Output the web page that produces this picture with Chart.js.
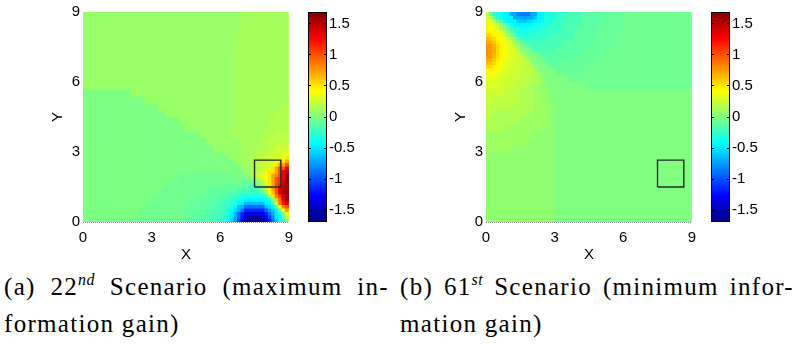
<!DOCTYPE html>
<html><head><meta charset="utf-8">
<script src="https://cdn.jsdelivr.net/npm/chart.js@4.4.1/dist/chart.umd.min.js"></script>
<style>
html,body{margin:0;padding:0;background:#fff;width:804px;height:344px;overflow:hidden;}
canvas{position:absolute;display:block;}
.cap{position:absolute;font-family:"Liberation Serif","DejaVu Serif",serif;font-size:25px;letter-spacing:1.3px;line-height:30px;color:#000;white-space:nowrap;}
.just{text-align:justify;text-align-last:justify;white-space:normal;}
.sup{font-size:16px;font-style:italic;position:relative;top:-10px;letter-spacing:0.5px;}
</style></head><body>
<canvas id="pa" width="300" height="265" style="left:0;top:0;width:300px;height:265px"></canvas>
<canvas id="ca" width="60" height="265" style="left:300px;top:0;width:60px;height:265px"></canvas>
<canvas id="pb" width="300" height="265" style="left:403px;top:0;width:300px;height:265px"></canvas>
<canvas id="cb" width="60" height="265" style="left:703px;top:0;width:60px;height:265px"></canvas>
<div class="cap just" style="left:4px;top:272px;width:385px">(a) 22<span class="sup">nd</span> Scenario (maximum in-</div>
<div class="cap" style="left:4px;top:309px">formation gain)</div>
<div class="cap just" style="left:400px;top:272px;width:394px">(b) 61<span class="sup">st</span> Scenario (minimum infor-</div>
<div class="cap" style="left:400px;top:309px">mation gain)</div>
<script>
// ---- data ----
const xTicks = [0, 3, 6, 9];
const yTicks = [0, 3, 6, 9];
const colorbarTicks = [-1.5, -1, -0.5, 0, 0.5, 1, 1.5];
const colorLimits = [-1.69, 1.69];
const gridMax = 9;
const cellSize = 0.3;      // coarse grid over the whole square
const fineCell = 0.15;     // finer grid over the 3x3 corner patches
const patchA = [6, 0];     // lower-left corner (x, y) of the fine patch in panel (a)
const patchB = [0, 6];     // lower-left corner (x, y) of the fine patch in panel (b)
const boxX = [7.5, 8.65, 8.65, 7.5, 7.5];
const boxY = [1.5, 1.5, 2.65, 2.65, 1.5];

// coarse fields: rows from top (y=9) to bottom (y=0), columns from x=0 to x=9
const fieldA = [
[.08,.08,.08,.08,.08,.08,.08,.08,.08,.08, .08,.08,.08,.08,.08,.08,.08,.08,.08,.08, .08,.08,.08,.12,.12,.12,.12,.12,.12,.12],
[.08,.08,.08,.08,.08,.08,.08,.08,.08,.08, .08,.08,.08,.08,.08,.08,.08,.08,.08,.08, .08,.08,.08,.12,.12,.12,.12,.12,.12,.12],
[.08,.08,.08,.08,.08,.08,.08,.08,.08,.08, .08,.08,.08,.08,.08,.08,.08,.08,.08,.08, .08,.08,.08,.12,.12,.12,.12,.12,.12,.12],
[.08,.08,.08,.08,.08,.08,.08,.08,.08,.08, .08,.08,.08,.08,.08,.08,.08,.08,.08,.08, .08,.08,.12,.12,.12,.12,.12,.12,.12,.12],
[.08,.08,.08,.08,.08,.08,.08,.08,.08,.08, .08,.08,.08,.08,.08,.08,.08,.08,.08,.08, .08,.08,.12,.12,.12,.12,.12,.12,.12,.12],
[.08,.08,.08,.08,.08,.08,.08,.08,.08,.08, .08,.08,.08,.08,.08,.08,.08,.08,.08,.08, .08,.08,.12,.12,.12,.12,.12,.12,.12,.12],
[.08,.08,.08,.08,.08,.08,.08,.08,.08,.08, .08,.08,.08,.08,.08,.08,.08,.08,.08,.08, .08,.08,.12,.12,.12,.12,.12,.12,.12,.12],
[.08,.08,.08,.08,.08,.08,.08,.08,.08,.08, .08,.08,.08,.08,.08,.08,.08,.08,.08,.08, .08,.08,.12,.12,.12,.12,.12,.12,.12,.12],
[.08,.08,.08,.08,.08,.08,.08,.08,.08,.08, .08,.08,.08,.08,.08,.08,.08,.08,.08,.08, .08,.08,.12,.12,.12,.12,.12,.12,.12,.12],
[.08,.08,.08,.08,.08,.08,.08,.08,.08,.08, .08,.08,.08,.08,.08,.08,.08,.08,.08,.08, .08,.08,.12,.12,.12,.12,.12,.12,.12,.12],
[.08,.08,.08,.08,.08,.08,.08,.08,.08,.08, .08,.08,.08,.08,.08,.08,.08,.08,.08,.08, .08,.08,.12,.12,.12,.12,.12,.12,.12,.12],
[-.01,-.01,-.01,-.01,-.01,-.01,-.01,.08,.08,.08, .08,.08,.08,.08,.08,.08,.08,.08,.08,.08, .08,.08,.12,.12,.12,.12,.12,.12,.12,.12],
[-.01,-.01,-.01,-.01,-.01,-.01,-.01,-.01,-.01,.08, .08,.08,.08,.08,.08,.08,.08,.08,.08,.08, .08,.08,.12,.12,.12,.12,.12,.12,.12,.12],
[-.01,-.01,-.01,-.01,-.01,-.01,-.01,-.01,-.01,-.01, -.01,.08,.08,.08,.08,.08,.08,.08,.08,.08, .08,.08,.12,.12,.12,.12,.12,.12,.12,.16],
[-.01,-.01,-.01,-.01,-.01,-.01,-.01,-.01,-.01,-.01, -.01,-.01,.08,.08,.08,.08,.08,.08,.08,.08, .08,.08,.12,.12,.12,.12,.12,.12,.16,.16],
[-.01,-.01,-.01,-.01,-.01,-.01,-.01,-.01,-.01,-.01, -.01,-.01,-.01,-.01,.08,.08,.08,.08,.08,.08, .08,.08,.12,.12,.12,.12,.12,.16,.16,.16],
[-.01,-.01,-.01,-.01,-.01,-.01,-.01,-.01,-.01,-.01, -.01,-.01,-.01,-.01,-.01,.08,.08,.08,.08,.08, .08,.08,.12,.12,.12,.12,.12,.16,.16,.16],
[-.01,-.01,-.01,-.01,-.01,-.01,-.01,-.01,-.01,-.01, -.01,-.01,-.01,-.01,-.01,-.01,-.01,.08,.08,.08, .08,.08,.12,.12,.12,.12,.16,.16,.2,.2],
[-.01,-.01,-.01,-.01,-.01,-.01,-.01,-.01,-.01,-.01, -.01,-.01,-.01,-.01,-.01,-.01,-.01,-.01,.08,.08, .08,.08,.08,.12,.12,.12,.16,.2,.2,.2],
[-.01,-.01,-.01,-.01,-.01,-.01,-.01,-.01,-.01,-.01, -.01,-.01,-.01,-.01,-.01,-.01,-.01,-.01,-.01,.08, .08,.08,.08,.12,.12,.16,.16,.2,.26,.26],
[-.01,-.01,-.01,-.01,-.01,-.01,-.01,-.01,-.01,-.01, -.01,-.01,-.01,-.01,-.01,-.01,-.01,-.01,-.01,-.01, -.01,.08,.08,.12,.12,.16,.2,.26,.31,.33],
[-.01,-.01,-.01,-.01,-.01,-.01,-.01,-.01,-.01,-.01, -.01,-.01,-.01,-.01,-.01,-.01,-.01,-.01,-.01,-.01, -.01,-.01,.08,.08,.12,.16,.21,.28,.36,.5],
[-.01,-.01,-.01,-.01,-.01,-.01,-.01,-.01,-.01,-.01, -.01,-.01,-.01,-.01,-.01,-.01,-.01,-.01,-.01,-.01, -.01,-.01,-.01,.08,.15,.21,.28,.38,.55,1.0],
[-.01,-.01,-.01,-.01,-.01,-.01,-.01,-.01,-.01,-.01, -.01,-.01,-.01,-.01,-.05,-.05,-.05,-.05,-.05,-.05, -.05,-.05,-.05,-.01,.05,.21,.36,.55,1.0,1.5],
[-.01,-.01,-.01,-.01,-.01,-.01,-.01,-.01,-.01,-.01, -.01,-.01,-.05,-.05,-.05,-.05,-.05,-.05,-.05,-.05, -.05,-.05,-.1,-.1,-.12,.1,.3,.55,1.1,1.6],
[-.01,-.01,-.01,-.01,-.01,-.01,-.01,-.01,-.01,-.01, -.01,-.05,-.05,-.05,-.05,-.05,-.05,-.05,-.1,-.1, -.1,-.1,-.15,-.22,-.22,-.15,.05,.35,.9,1.6],
[-.01,-.01,-.01,-.01,-.01,-.01,-.01,-.01,-.01,-.03, -.05,-.05,-.05,-.05,-.05,-.05,-.07,-.1,-.1,-.12, -.15,-.22,-.3,-.42,-.45,-.45,-.35,.1,.7,1.5],
[-.01,-.01,-.01,-.01,-.01,-.01,-.01,-.01,-.02,-.05, -.05,-.05,-.05,-.05,-.05,-.08,-.1,-.1,-.13,-.15, -.22,-.3,-.45,-.65,-.9,-.9,-.65,-.35,.25,1.1],
[-.01,-.01,-.01,-.01,-.01,-.01,-.01,-.01,-.05,-.05, -.05,-.05,-.05,-.05,-.05,-.1,-.1,-.1,-.15,-.18, -.22,-.4,-.7,-1.1,-1.35,-1.35,-1.1,-.75,-.3,.5],
[-.01,-.01,-.01,-.01,-.01,-.01,-.01,-.01,-.05,-.05, -.05,-.05,-.05,-.05,-.08,-.1,-.1,-.15,-.15,-.22, -.25,-.5,-.9,-1.4,-1.6,-1.6,-1.45,-.9,-.45,.15]
];

// fine patch (a): x 6..9, y 0..3; rows from top (y=3) to bottom (y=0)
const fineA = [
[-.01,.08,.08,.08,.08,.08,.12,.12,.12,.12, .17,.17,.17,.21,.21,.26,.26,.26,.33,.33],
[-.01,-.01,.08,.08,.08,.08,.08,.12,.12,.12, .17,.17,.21,.21,.26,.26,.26,.33,.33,.5],
[-.01,-.01,-.01,-.01,.08,.08,.08,.12,.12,.12, .17,.17,.21,.26,.26,.26,.33,.5,.5,.72],
[-.01,-.01,-.01,-.01,-.01,.08,.08,.08,.12,.12, .17,.21,.21,.26,.26,.33,.5,.72,.72,1.0],
[-.01,-.01,-.01,-.01,-.01,-.01,.08,.08,.12,.12, .17,.21,.26,.26,.33,.5,.72,1.0,1.0,1.35],
[-.01,-.01,-.01,-.01,-.01,-.01,-.01,.08,.1,.15, .19,.21,.26,.33,.5,.5,.72,1.0,1.35,1.45],
[-.05,-.05,-.05,-.03,-.01,-.01,-.01,-.01,.08,.15, .2,.26,.33,.4,.5,.72,.8,1.0,1.35,1.6],
[-.05,-.05,-.05,-.05,-.05,-.05,-.05,-.05,-.02,.03, .12,.22,.33,.4,.5,.72,1.0,1.1,1.35,1.6],
[-.05,-.05,-.05,-.05,-.05,-.05,-.05,-.1,-.1,-.1, -.03,.1,.2,.3,.5,.72,1.0,1.1,1.4,1.6],
[-.05,-.07,-.1,-.1,-.1,-.1,-.1,-.1,-.15,-.15, -.12,-.02,.1,.25,.5,.72,1.0,1.2,1.45,1.6],
[-.1,-.1,-.1,-.1,-.1,-.15,-.15,-.15,-.22,-.22, -.22,-.12,0,.15,.45,.72,1.0,1.35,1.5,1.6],
[-.1,-.1,-.15,-.15,-.15,-.22,-.22,-.22,-.22,-.3, -.3,-.22,-.12,.02,.4,.6,1.0,1.35,1.5,1.6],
[-.15,-.15,-.15,-.22,-.22,-.22,-.33,-.33,-.33,-.33, -.33,-.33,-.33,-.2,.05,.5,.85,1.1,1.4,1.6],
[-.15,-.18,-.22,-.22,-.33,-.33,-.38,-.45,-.45,-.45, -.45,-.45,-.45,-.38,-.25,.02,.6,.9,1.35,1.5],
[-.18,-.22,-.22,-.3,-.33,-.45,-.45,-.65,-.65,-.65, -.65,-.65,-.65,-.45,-.45,-.2,.3,.85,1.2,1.35],
[-.22,-.22,-.25,-.33,-.45,-.65,-.65,-.9,-.9,-.9, -.9,-.9,-.9,-.65,-.55,-.45,-.15,.35,.85,1.0],
[-.22,-.22,-.33,-.4,-.55,-.7,-.9,-1.15,-1.15,-1.15, -1.15,-1.15,-1.15,-.9,-.75,-.6,-.45,-.1,.45,.72],
[-.22,-.25,-.33,-.45,-.65,-.9,-1.15,-1.35,-1.35,-1.4, -1.4,-1.35,-1.35,-1.15,-.9,-.65,-.45,-.33,0,.45],
[-.22,-.3,-.35,-.5,-.7,-.9,-1.2,-1.4,-1.6,-1.6, -1.6,-1.6,-1.45,-1.3,-1.05,-.8,-.5,-.4,-.15,.25],
[-.22,-.3,-.4,-.55,-.75,-1.05,-1.3,-1.6,-1.6,-1.6, -1.6,-1.6,-1.6,-1.4,-1.15,-.9,-.6,-.4,-.3,.05]
];

const fieldB = [
[.15,-.15,-.4,-.45,-.75,-.9,-.75,-.45,-.4,-.33, -.25,-.25,-.18,-.18,-.12,-.12,-.12,-.08,-.08,-.08, -.05,-.05,-.05,-.05,-.05,-.05,-.05,-.05,-.05,-.05],
[.3,.15,-.15,-.45,-.45,-.5,-.45,-.45,-.33,-.25, -.25,-.18,-.18,-.18,-.12,-.12,-.12,-.08,-.08,-.08, -.05,-.05,-.05,-.05,-.05,-.05,-.05,-.05,-.05,-.05],
[.45,.3,.15,-.2,-.33,-.3,-.33,-.33,-.25,-.25, -.25,-.18,-.18,-.12,-.12,-.12,-.08,-.08,-.08,-.08, -.05,-.05,-.05,-.05,-.05,-.05,-.05,-.05,-.05,-.05],
[.55,.45,.36,.15,-.15,-.25,-.25,-.25,-.25,-.18, -.18,-.18,-.18,-.12,-.12,-.12,-.08,-.08,-.08,-.05, -.05,-.05,-.05,-.05,-.05,-.05,-.05,-.05,-.05,-.05],
[.7,.55,.45,.3,.05,-.12,-.18,-.18,-.18,-.18, -.18,-.12,-.12,-.12,-.12,-.08,-.08,-.08,-.08,-.05, -.05,-.05,-.05,-.05,-.05,-.05,-.05,-.05,-.05,-.05],
[.8,.6,.45,.3,.15,0,0,-.1,-.18,-.18, -.12,-.12,-.12,-.12,-.08,-.08,-.08,-.08,-.05,-.05, -.05,-.05,-.05,-.05,-.05,-.05,-.05,-.05,-.05,-.05],
[.7,.55,.45,.3,.25,.15,0,0,-.08,-.12, -.12,-.12,-.12,-.08,-.08,-.08,-.08,-.05,-.05,-.05, -.05,-.05,-.05,-.05,-.05,-.05,-.05,-.05,-.05,-.05],
[.55,.45,.36,.3,.25,.2,.1,0,0,-.07, -.1,-.08,-.08,-.08,-.08,-.08,-.05,-.05,-.05,-.05, -.05,-.05,-.05,-.05,-.05,-.05,-.05,-.05,-.05,-.05],
[.45,.36,.3,.3,.25,.2,.2,.08,0,0, -.05,-.08,-.08,-.08,-.05,-.05,-.05,-.05,-.05,-.05, -.05,-.05,-.05,-.05,-.05,-.05,-.05,-.05,-.05,-.05],
[.36,.3,.3,.25,.25,.2,.2,.15,.03,0, 0,0,-.05,-.05,-.05,-.05,-.05,-.05,-.05,-.05, -.05,-.05,-.05,-.05,-.05,-.05,-.05,-.05,-.05,-.05],
[.3,.3,.25,.25,.2,.2,.15,.1,.05,0, 0,0,0,0,-.03,-.05,-.05,-.05,-.05,-.05, -.05,-.05,-.05,-.05,-.05,-.05,-.05,-.05,-.05,-.05],
[.25,.25,.25,.2,.2,.15,.15,.1,.07,0, 0,0,0,0,0,0,0,0,0,0, 0,0,0,0,0,0,0,0,0,0],
[.25,.2,.2,.2,.2,.15,.15,.1,.07,.03, 0,0,0,0,0,0,0,0,0,0, 0,0,0,0,0,0,0,0,0,0],
[.2,.2,.2,.2,.15,.15,.15,.1,.1,.05, 0,0,0,0,0,0,0,0,0,0, 0,0,0,0,0,0,0,0,0,0],
[.2,.15,.15,.15,.15,.15,.1,.1,.1,.05, 0,0,0,0,0,0,0,0,0,0, 0,0,0,0,0,0,0,0,0,0],
[.15,.15,.15,.15,.15,.1,.1,.1,.1,.05, 0,0,0,0,0,0,0,0,0,0, 0,0,0,0,0,0,0,0,0,0],
[.15,.15,.15,.1,.1,.1,.1,.1,.05,.05, 0,0,0,0,0,0,0,0,0,0, 0,0,0,0,0,0,0,0,0,0],
[.1,.1,.1,.1,.1,.1,.1,.05,.05,.05, 0,0,0,0,0,0,0,0,0,0, 0,0,0,0,0,0,0,0,0,0],
[.1,.1,.1,.1,.1,.1,.05,.05,.05,.05, 0,0,0,0,0,0,0,0,0,0, 0,0,0,0,0,0,0,0,0,0],
[.1,.1,.1,.1,.05,.05,.05,.05,.05,.05, 0,0,0,0,0,0,0,0,0,0, 0,0,0,0,0,0,0,0,0,0],
[.07,.05,.05,.05,.05,.05,.05,.05,.05,.05, 0,0,0,0,0,0,0,0,0,0, 0,0,0,0,0,0,0,0,0,0],
[.05,.05,.05,.05,.05,.05,.05,.05,.05,.05, 0,0,0,0,0,0,0,0,0,0, 0,0,0,0,0,0,0,0,0,0],
[.05,.05,.05,.05,.05,.05,.05,.05,.05,.05, 0,0,0,0,0,0,0,0,0,0, 0,0,0,0,0,0,0,0,0,0],
[.05,.05,.05,.05,.05,.05,.05,.05,.05,.05, 0,0,0,0,0,0,0,0,0,0, 0,0,0,0,0,0,0,0,0,0],
[.05,.05,.05,.05,.05,.05,.05,.05,.05,.05, 0,0,0,0,0,0,0,0,0,0, 0,0,0,0,0,0,0,0,0,0],
[.05,.05,.05,.05,.05,.05,.05,.05,.05,.05, 0,0,0,0,0,0,0,0,0,0, 0,0,0,0,0,0,0,0,0,0],
[.05,.05,.05,.05,.05,.05,.05,.05,.05,.05, 0,0,0,0,0,0,0,0,0,0, 0,0,0,0,0,0,0,0,0,0],
[.05,.05,.05,.05,.05,.05,.05,.05,.05,.05, 0,0,0,0,0,0,0,0,0,0, 0,0,0,0,0,0,0,0,0,0],
[.05,.05,.05,.05,.05,.05,.05,.05,.05,.05, 0,0,0,0,0,0,0,0,0,0, 0,0,0,0,0,0,0,0,0,0],
[.05,.05,.05,.05,.05,.05,.05,.05,.05,.05, 0,0,0,0,0,0,0,0,0,0, 0,0,0,0,0,0,0,0,0,0]
];

// fine patch (b): x 0..3, y 6..9; rows from top (y=9) to bottom (y=6)
const fineB = [
[.2,-.1,-.25,-.33,-.33,-.45,-.45,-.7,-.7,-.85, -.85,-.85,-.85,-.7,-.7,-.45,-.45,-.33,-.33,-.33],
[.3,.15,-.12,-.33,-.33,-.45,-.45,-.45,-.7,-.7, -.7,-.75,-.7,-.7,-.6,-.45,-.45,-.33,-.33,-.33],
[.3,.3,.2,.05,-.15,-.33,-.45,-.45,-.45,-.55, -.6,-.6,-.55,-.5,-.45,-.45,-.4,-.33,-.33,-.25],
[.36,.36,.3,.2,.05,-.05,-.2,-.35,-.45,-.45, -.45,-.45,-.45,-.45,-.4,-.33,-.33,-.33,-.3,-.25],
[.45,.4,.36,.3,.12,0,-.1,-.25,-.33,-.33, -.4,-.4,-.35,-.33,-.33,-.33,-.33,-.3,-.25,-.25],
[.45,.45,.45,.36,.3,.12,0,-.1,-.25,-.33, -.33,-.33,-.33,-.33,-.33,-.3,-.25,-.25,-.25,-.25],
[.55,.55,.45,.45,.36,.3,.15,0,-.12,-.28, -.3,-.3,-.3,-.25,-.25,-.25,-.25,-.25,-.25,-.18],
[.65,.6,.55,.45,.4,.36,.3,.12,0,-.1, -.2,-.25,-.25,-.25,-.25,-.25,-.25,-.22,-.18,-.18],
[.7,.7,.6,.5,.45,.36,.3,.25,.05,0, -.08,-.18,-.22,-.22,-.22,-.22,-.18,-.18,-.18,-.18],
[.78,.75,.65,.55,.45,.4,.36,.3,.2,.05, 0,-.05,-.12,-.18,-.18,-.18,-.18,-.18,-.18,-.18],
[.8,.75,.7,.55,.45,.4,.36,.3,.3,.15, .03,0,-.03,-.12,-.18,-.18,-.18,-.18,-.18,-.18],
[.8,.75,.7,.55,.45,.4,.36,.3,.3,.25, .15,.02,0,0,-.05,-.12,-.15,-.15,-.12,-.12],
[.78,.75,.65,.55,.45,.4,.36,.3,.3,.25, .25,.12,.02,0,0,-.05,-.1,-.12,-.12,-.12],
[.7,.7,.6,.5,.45,.36,.3,.3,.25,.25, .25,.2,.12,.02,0,0,-.05,-.1,-.12,-.12],
[.65,.6,.55,.45,.42,.36,.3,.3,.25,.25, .25,.2,.2,.08,0,0,0,-.04,-.1,-.1],
[.55,.55,.45,.45,.4,.36,.3,.3,.25,.25, .25,.2,.2,.2,.08,0,0,0,-.04,-.08],
[.45,.45,.45,.4,.36,.3,.3,.25,.25,.25, .2,.2,.2,.2,.12,.05,0,0,0,0],
[.45,.4,.36,.36,.3,.3,.3,.25,.25,.25, .2,.2,.2,.2,.15,.1,.03,0,0,0],
[.36,.36,.36,.3,.3,.3,.25,.25,.25,.25, .2,.2,.2,.15,.15,.12,.05,0,0,0],
[.3,.3,.3,.3,.3,.25,.25,.25,.25,.2, .2,.2,.2,.15,.15,.15,.05,0,0,0]
];

// ---- rendering ----
const TICK_FONT = {family: "'Liberation Sans', Arial, sans-serif", size: 15};
const TITLE_FONT = {family: "'Liberation Sans', Arial, sans-serif", size: 15};

function jet(v) {
  let t = (v - colorLimits[0]) / (colorLimits[1] - colorLimits[0]);
  t = Math.min(1, Math.max(0, t));
  const f = x => Math.round(255 * Math.min(1, Math.max(0, x)));
  return 'rgb(' + f(1.5 - Math.abs(4 * t - 3)) + ',' + f(1.5 - Math.abs(4 * t - 2)) + ',' + f(1.5 - Math.abs(4 * t - 1)) + ')';
}

function fixedTicks(list) {
  return function (scale) { scale.ticks = list.map(v => ({value: v})); };
}

// one floating-bar dataset per grid row; cells span [y0 + k*size, y0 + (k+1)*size]
function gridDatasets(grid, x0, y0, size, axisId) {
  const n = grid.length;
  return grid.map((row, r) => ({
    type: 'bar', xAxisID: axisId,
    data: row.map((v, c) => ({x: x0 + (c + 0.5) * size, y: [y0 + (n - r - 1) * size, y0 + (n - r) * size]})),
    backgroundColor: row.map(jet),
    borderWidth: 0, inflateAmount: 0.4, grouped: false,
    barPercentage: 1, categoryPercentage: 1
  }));
}

function makePanel(id, field, fine, patch) {
  const datasets = [{
    type: 'line',
    data: boxX.map((x, i) => ({x: x, y: boxY[i]})),
    borderColor: '#262626', borderWidth: 1.4,
    pointRadius: 0, fill: false, tension: 0
  }]
    .concat(gridDatasets(fine, patch[0], patch[1], fineCell, 'xf'))
    .concat(gridDatasets(field, 0, 0, cellSize, 'x'));
  const edgeColor = c => (c.tick && c.tick.value === 0) ? '#8c8c8c' : 'rgba(0,0,0,0)';
  new Chart(document.getElementById(id), {
    type: 'bar',
    data: {datasets: datasets},
    options: {
      responsive: false, animation: false, devicePixelRatio: 1,
      layout: {padding: {left: 0, top: 12, right: 7, bottom: 0}},
      plugins: {legend: {display: false}, tooltip: {enabled: false}},
      scales: {
        x: {
          type: 'linear', min: 0, max: gridMax, offset: false,
          afterBuildTicks: fixedTicks(xTicks),
          afterFit: s => { s.height = 43; },
          grid: {drawTicks: false, color: edgeColor, z: 1, lineWidth: 1},
          border: {display: false, dash: [1, 1]},
          ticks: {padding: 7, color: '#000', font: TICK_FONT, maxRotation: 0, autoSkip: false},
          title: {display: true, text: 'X', color: '#000', font: TITLE_FONT, padding: {top: 0, bottom: 1}}
        },
        xf: {type: 'linear', display: false, min: 0, max: gridMax, offset: false},
        y: {
          type: 'linear', min: 0, max: gridMax,
          afterBuildTicks: fixedTicks(yTicks),
          afterFit: s => { s.width = 83; },
          grid: {drawTicks: false, color: edgeColor, z: 1, lineWidth: 1},
          border: {display: false, dash: [1, 1]},
          ticks: {padding: 3, color: '#000', font: TICK_FONT, autoSkip: false},
          title: {display: true, text: 'Y', color: '#000', font: TITLE_FONT, padding: {top: 49, bottom: 0}}
        }
      }
    }
  });
}

function jetGradient(context) {
  const chart = context.chart;
  const area = chart.chartArea;
  if (!area) return 'rgba(0,0,0,0)';
  const g = chart.ctx.createLinearGradient(0, area.bottom, 0, area.top);
  const n = 64;
  for (let k = 0; k <= n; k++) {
    const v = colorLimits[0] + (colorLimits[1] - colorLimits[0]) * k / n;
    g.addColorStop(k / n, jet(v));
  }
  return g;
}

function makeColorbar(id) {
  new Chart(document.getElementById(id), {
    type: 'bar',
    data: {labels: [''], datasets: [{
      data: [colorLimits],
      backgroundColor: jetGradient,
      borderColor: '#000', borderWidth: 1, borderSkipped: false, inflateAmount: 0,
      barPercentage: 1, categoryPercentage: 1
    }]},
    options: {
      responsive: false, animation: false, devicePixelRatio: 1,
      layout: {padding: {left: 8, top: 12, right: 0, bottom: 43}},
      plugins: {legend: {display: false}, tooltip: {enabled: false}},
      scales: {
        x: {display: false},
        y: {
          position: 'right', min: colorLimits[0], max: colorLimits[1],
          afterBuildTicks: fixedTicks(colorbarTicks),
          afterFit: s => { s.width = 33; },
          grid: {drawTicks: false, color: '#000', lineWidth: 1, z: 1},
          border: {display: false, dash: [3, 13]},
          ticks: {padding: 2, color: '#000', font: TICK_FONT, autoSkip: false, callback: v => String(v)}
        }
      }
    }
  });
}

makePanel('pa', fieldA, fineA, patchA);
makeColorbar('ca');
makePanel('pb', fieldB, fineB, patchB);
makeColorbar('cb');
</script>
</body></html>
